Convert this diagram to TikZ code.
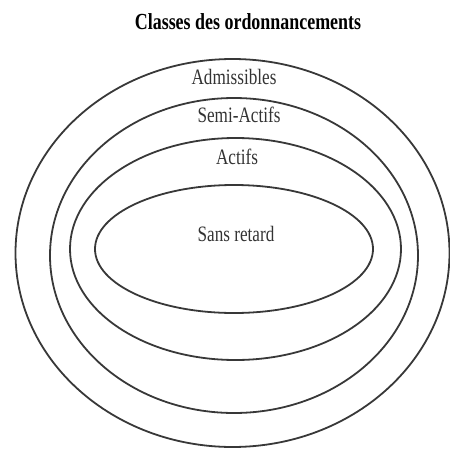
\documentclass[tikz,border=0pt]{standalone}
\usepackage{fontspec}
\setmainfont{Liberation Serif}
\usetikzlibrary{shapes.geometric}
% narrow, condensed setting of the serif labels
\newcommand\narrowtxt[1]{\scalebox{0.78}[1]{#1}}
\begin{document}
\begin{tikzpicture}[x=1pt,y=-1pt,
  setbound/.style={ellipse, draw=black!78, line width=1.8pt, inner sep=0pt},
  lbl/.style={inner sep=0pt, text=black!80, font=\fontsize{22}{24}\selectfont},
  heading/.style={inner sep=0pt, text=black, font=\bfseries\fontsize{23}{25}\selectfont}]
\useasboundingbox (0,0) rectangle (450,451);

% nested classes of schedules
\node[setbound, minimum width=434pt, minimum height=388pt] (adm)  at (232.5,253) {};
\node[setbound, minimum width=368pt, minimum height=315pt] (semi) at (234,255.5) {};
\node[setbound, minimum width=331pt, minimum height=222pt] (act)  at (235.5,249) {};
\node[setbound, minimum width=278pt, minimum height=128pt] (sr)   at (234,249) {};

% labels
\node[heading] (title) at (248,22) {\narrowtxt{Classes des ordonnancements}};
\node[lbl] (tadm)  at (234,77)  {\narrowtxt{Admissibles}};
\node[lbl] (tsemi) at (239,115) {\narrowtxt{Semi-Actifs}};
\node[lbl] (tact)  at (237,157) {\narrowtxt{Actifs}};
\node[lbl] (tsr)   at (236,234) {\narrowtxt{Sans retard}};
\end{tikzpicture}
\end{document}
